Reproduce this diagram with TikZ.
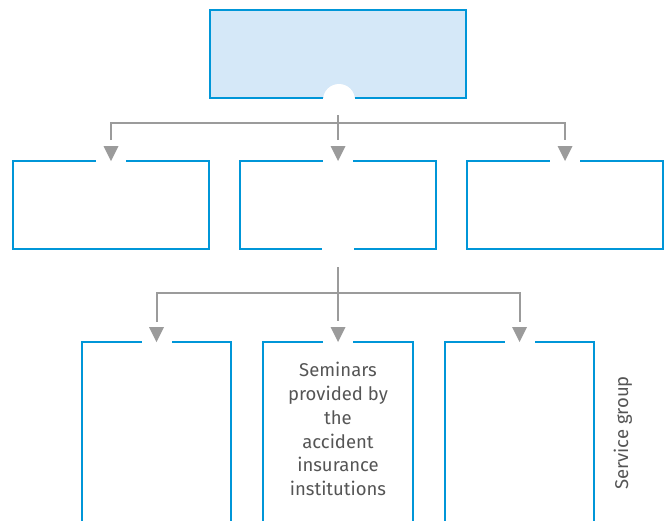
\documentclass[tikz,border=0pt]{standalone}
\usepackage{fontspec}
\setmainfont{Fira Sans}
\usetikzlibrary{calc}
\definecolor{boxblue}{HTML}{0096D8}
\definecolor{boxfill}{HTML}{D5E8F8}
\definecolor{conngray}{HTML}{9B9B9B}
\definecolor{txtgray}{HTML}{555555}
\newcommand\edgegapN[2]{\draw[white,line width=4pt] ($(#1.north)+(-#2,0)$) -- ($(#1.north)+(#2,0)$);}
\newcommand\edgegapS[2]{\draw[white,line width=4pt] ($(#1.south)+(-#2,0)$) -- ($(#1.south)+(#2,0)$);}
\newcommand\tipdown[1]{\fill[conngray] (#1.north) -- ++(-7.5,-15) -- ++(15,0) -- cycle;}
\begin{document}
\begin{tikzpicture}[x=1pt,y=-1pt,
  box/.style={draw=boxblue,line width=2pt,inner sep=0pt,outer sep=0pt,rectangle},
  conn/.style={draw=conngray,line width=2pt},
  txt/.style={text=txtgray,font=\fontsize{18.5}{23.8}\selectfont,inner sep=0pt}]
\useasboundingbox (0,0) rectangle (666,520);
\clip (0,0) rectangle (666,520);
% boxes
\node[box,fill=boxfill,minimum width=256pt,minimum height=88pt] (top) at (338,54) {};
\node[box,minimum width=196pt,minimum height=88pt] (m1) at (111,205) {};
\node[box,minimum width=196pt,minimum height=88pt] (m2) at (338,205) {};
\node[box,minimum width=196pt,minimum height=88pt] (m3) at (565,205) {};
\node[box,minimum width=149pt,minimum height=198pt] (b1) at (156.5,441) {};
\node[box,minimum width=150pt,minimum height=198pt] (b2) at (338,441) {};
\node[box,minimum width=149pt,minimum height=198pt] (b3) at (519.5,441) {};
% notch and gaps
\fill[white] ($(top.south)+(1,2)$) circle (16pt);
\edgegapN{m1}{15}
\edgegapN{m2}{15}
\edgegapN{m3}{15}
\edgegapS{m2}{16}
\edgegapN{b1}{15}
\edgegapN{b2}{15}
\edgegapN{b3}{15}
% connectors level 1
\coordinate (s1) at ($(top.south)+(0,17)$);
\coordinate (j1) at ($(top.south)+(0,25)$);
\coordinate (a1) at ($(m1.north)+(0,-21)$);
\coordinate (a2) at ($(m2.north)+(0,-21)$);
\coordinate (a3) at ($(m3.north)+(0,-21)$);
\draw[conn] (s1) -- (a2);
\draw[conn] (a1) |- (j1) -| (a3);
\tipdown{m1}
\tipdown{m2}
\tipdown{m3}
% connectors level 2
\coordinate (s2) at ($(m2.south)+(0,18)$);
\coordinate (j2) at ($(m2.south)+(0,44)$);
\coordinate (c1) at ($(b1.north)+(0,-20)$);
\coordinate (c2) at ($(b2.north)+(0,-21)$);
\coordinate (c3) at ($(b3.north)+(0,-20)$);
\draw[conn] (s2) -- (c2);
\draw[conn] (c1) |- (j2) -| (c3);
\tipdown{b1}
\tipdown{b2}
\tipdown{b3}
% texts
\node[txt,align=center] (lbl) at (338,429) {Seminars\\provided by\\the\\accident\\insurance\\institutions};
\node[txt,rotate=90,anchor=base] (sg) at (628,433) {Service group};
\end{tikzpicture}
\end{document}
